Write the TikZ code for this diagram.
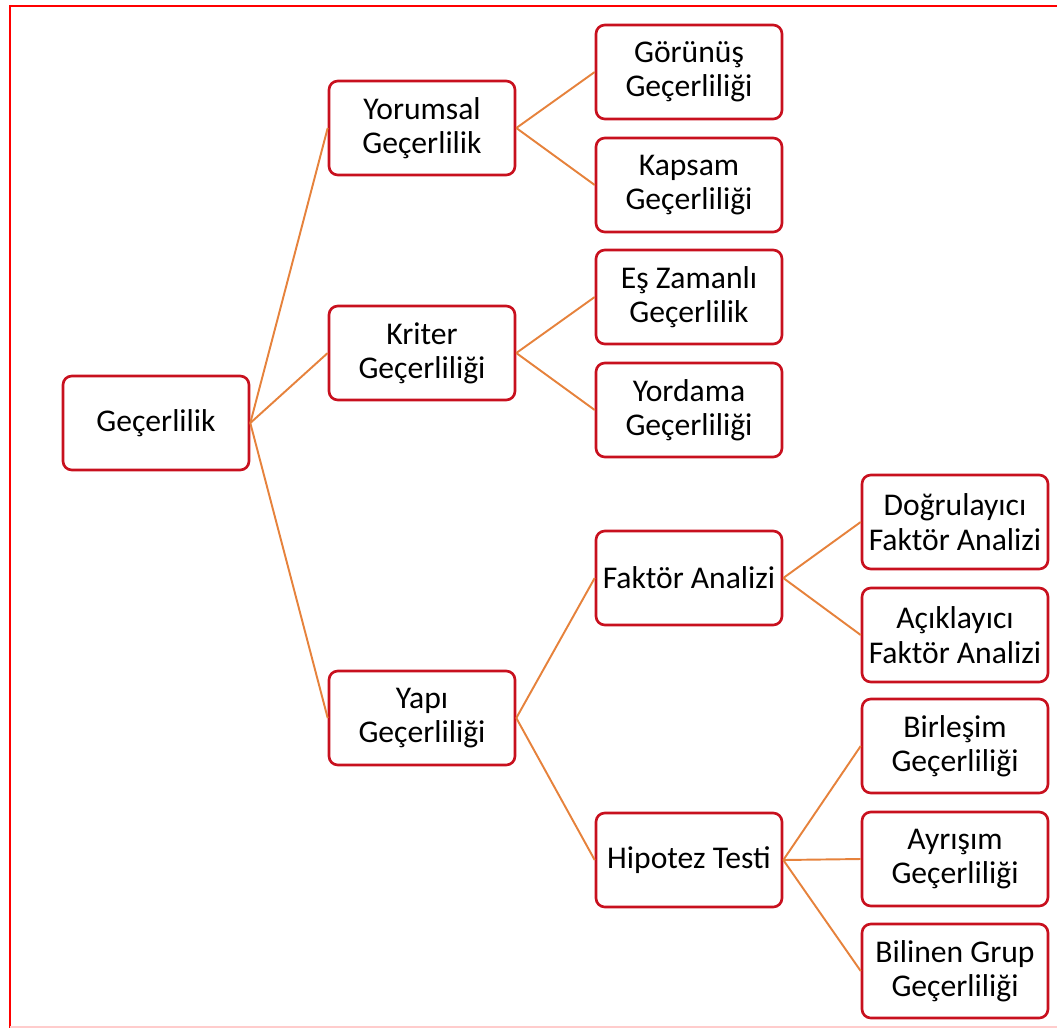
\documentclass[tikz,border=0pt]{standalone}
\usepackage{fontspec}
\setmainfont{Carlito}
\definecolor{boxred}{RGB}{200,16,30}
\definecolor{linkorange}{RGB}{230,130,60}
\begin{document}
\begin{tikzpicture}[x=0.02cm, y=-0.02cm,
  kutu/.style={draw=boxred, line width=1.5pt, rounded corners=5pt, fill=white,
    minimum width=3.72cm, minimum height=1.88cm, align=center, inner sep=1pt,
    font=\fontsize{18}{19.5}\selectfont},
  bag/.style={draw=linkorange, line width=1.1pt}]
\useasboundingbox (0,0) rectangle (1057,1028);
% frame
\draw[red, line width=1.2pt] (1057,6) -- (10,6) -- (10,1028);
\draw[red!20, line width=1pt] (10,1027) -- (1057,1027);

% root
\node[kutu] (gec) at (156,423) {Geçerlilik};

% level 1
\node[kutu] (yor) at (422,128) {Yorumsal\\Geçerlilik};
\node[kutu] (kri) at (422,353) {Kriter\\Geçerliliği};
\node[kutu] (yapi) at (422,718) {Yapı\\Geçerliliği};

% level 2
\node[kutu] (gor) at (689,72) {Görünüş\\Geçerliliği};
\node[kutu] (kap) at (689,185) {Kapsam\\Geçerliliği};
\node[kutu] (es) at (689,297) {Eş Zamanlı\\Geçerlilik};
\node[kutu] (yord) at (689,410) {Yordama\\Geçerliliği};
\node[kutu] (fak) at (689,578) {Faktör Analizi};
\node[kutu] (hip) at (689,860) {Hipotez Testi};

% level 3
\node[kutu] (dog) at (955,522) {Doğrulayıcı\\Faktör Analizi};
\node[kutu] (aci) at (955,635) {Açıklayıcı\\Faktör Analizi};
\node[kutu] (bir) at (955,746) {Birleşim\\Geçerliliği};
\node[kutu] (ayr) at (955,859) {Ayrışım\\Geçerliliği};
\node[kutu] (bil) at (955,971) {Bilinen Grup\\Geçerliliği};

% connectors
\foreach \a/\b in {gec/yor, gec/kri, gec/yapi, yor/gor, yor/kap, kri/es, kri/yord,
  yapi/fak, yapi/hip, fak/dog, fak/aci, hip/bir, hip/ayr, hip/bil}
{ \draw[bag] (\a.east) -- (\b.west); }
\end{tikzpicture}
\end{document}
